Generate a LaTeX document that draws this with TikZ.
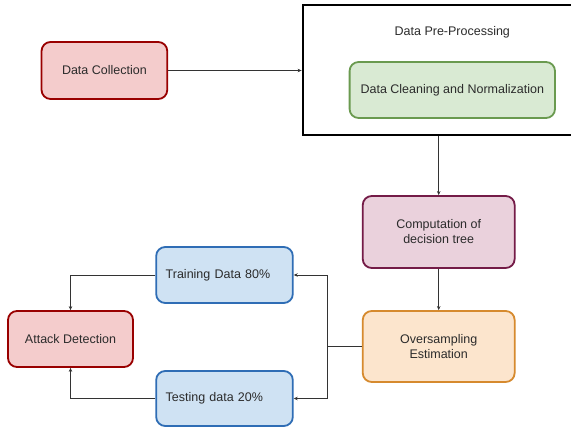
\documentclass[tikz,border=0pt]{standalone}
\usepackage{fontspec}
\setmainfont{Liberation Sans}
\usetikzlibrary{arrows.meta}
\definecolor{redfill}{HTML}{F4CCCC}
\definecolor{redline}{HTML}{990000}
\definecolor{greenfill}{HTML}{D9EAD3}
\definecolor{greenline}{HTML}{6A9A4F}
\definecolor{purplefill}{HTML}{EAD1DC}
\definecolor{purpleline}{HTML}{741B47}
\definecolor{orangefill}{HTML}{FCE5CD}
\definecolor{orangeline}{HTML}{D68A2E}
\definecolor{bluefill}{HTML}{CFE2F3}
\definecolor{blueline}{HTML}{2F6DB5}
\definecolor{txt}{HTML}{2B2B2B}
\begin{document}
\begin{tikzpicture}[x=1pt,y=-1pt,
  box/.style={draw, line width=1.8pt, rounded corners=9pt, align=center, text=txt,
    font=\fontsize{12.5}{15}\selectfont, inner sep=0pt},
  leftbox/.style={box, inner xsep=9.5pt, text width=117.6pt, align=left},
  plainlabel/.style={font=\fontsize{12.5}{15}\selectfont, inner sep=0pt, text=txt},
  conn/.style={draw=black!80, line width=0.7pt, -{Stealth[length=4pt,width=3.5pt]}}]
\clip (0,0) rectangle (571,427);
\fill[white] (0,0) rectangle (571,427);

\node[box, fill=redfill, draw=redline, minimum width=125.7pt, minimum height=57pt] (dc) at (104.4,70.5) {Data Collection};
\node[draw, line width=2pt, minimum width=300pt, minimum height=130pt, inner sep=0pt] (pp) at (452.6,70) {};
\node[plainlabel] (ppt) at (452.3,32) {Data Pre-Processing};
\node[box, fill=greenfill, draw=greenline, minimum width=205.4pt, minimum height=56pt] (dcn) at (452.3,90) {Data Cleaning and Normalization};
\node[box, fill=purplefill, draw=purpleline, minimum width=151.9pt, minimum height=72pt] (comp) at (438.7,232) {Computation of\\decision tree};
\node[box, fill=orangefill, draw=orangeline, minimum width=151.9pt, minimum height=71pt] (over) at (438.7,346.5) {Oversampling\\Estimation};
\node[leftbox, fill=bluefill, draw=blueline, minimum height=56pt] (train) at (224.5,275) {Training Data 80\%};
\node[leftbox, fill=bluefill, draw=blueline, minimum height=55pt] (test) at (224.5,398.5) {Testing data 20\%};
\node[box, fill=redfill, draw=redline, minimum width=125pt, minimum height=56pt] (att) at (70.5,339) {Attack Detection};

\draw[conn] (dc.east) -- (dc.east -| pp.west);
\draw[conn] (pp.south -| comp.north) -- (comp.north);
\draw[conn] (comp.south) -- (over.north);
\draw[conn] (over.west) -- ++(-35,0) |- (train.east);
\draw[conn] (over.west) -- ++(-35,0) |- (test.east);
\draw[conn] (train.west) -| (att.north);
\draw[conn] (test.west) -| (att.south);
\end{tikzpicture}
\end{document}
